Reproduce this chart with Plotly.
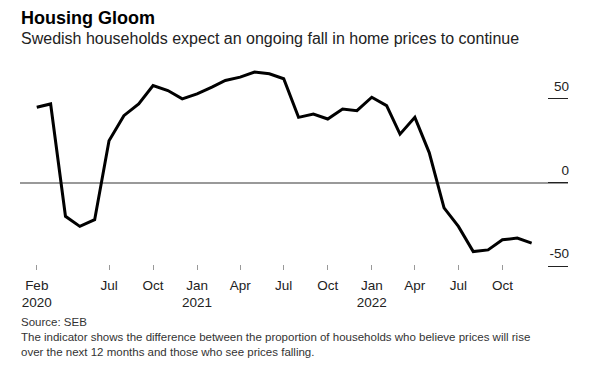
import plotly.graph_objects as go

# ---- data ----
months = [
    "2020-02-01", "2020-03-01", "2020-04-01", "2020-05-01", "2020-06-01", "2020-07-01",
    "2020-08-01", "2020-09-01", "2020-10-01", "2020-11-01", "2020-12-01",
    "2021-01-01", "2021-02-01", "2021-03-01", "2021-04-01", "2021-05-01", "2021-06-01",
    "2021-07-01", "2021-08-01", "2021-09-01", "2021-10-01", "2021-11-01", "2021-12-01",
    "2022-01-01", "2022-02-01", "2022-03-01", "2022-04-01", "2022-05-01", "2022-06-01",
    "2022-07-01", "2022-08-01", "2022-09-01", "2022-10-01", "2022-11-01", "2022-12-01",
]
indicator = [
    45, 47, -20, -26, -22, 25,
    40, 47, 58, 55, 50,
    53, 57, 61, 63, 66, 65,
    62, 39, 41, 38, 44, 43,
    51, 46, 29, 39, 18, -15,
    -26, -41, -40, -34, -33, -36,
]
x_tick_vals = [
    "2020-02-01", "2020-07-01", "2020-10-01", "2021-01-01", "2021-04-01", "2021-07-01",
    "2021-10-01", "2022-01-01", "2022-04-01", "2022-07-01", "2022-10-01",
]
x_tick_text = [
    "Feb<br>2020", "Jul<br>\u00a0", "Oct<br>\u00a0", "Jan<br>2021", "Apr<br>\u00a0", "Jul<br>\u00a0",
    "Oct<br>\u00a0", "Jan<br>2022", "Apr<br>\u00a0", "Jul<br>\u00a0", "Oct<br>\u00a0",
]
y_tick_vals = [-50, 0, 50]
y_tick_text = ["-50", "0", "50"]

title = "Housing Gloom"
subtitle = "Swedish households expect an ongoing fall in home prices to continue"
footer_lines = [
    "Source: SEB",
    "The indicator shows the difference between the proportion of households who believe prices will rise",
    "over the next 12 months and those who see prices falling.",
]

# ---- layout geometry (pixels) ----
W, H = 591, 372
L, R, T, B = 20, 568, 62.2, 269.8
FONT = "Liberation Sans, Arial, sans-serif"


def py(p):
    return (B - p) / (B - T)


fig = go.Figure()
fig.add_trace(go.Scatter(
    x=months, y=indicator, mode="lines",
    line=dict(color="#000000", width=3),
    hoverinfo="skip", showlegend=False,
))

fig.update_layout(
    width=W, height=H,
    margin=dict(l=L, r=W - R, t=T, b=H - B, pad=0),
    paper_bgcolor="white", plot_bgcolor="white",
    font=dict(family=FONT, color="#222222"),
    showlegend=False,
    xaxis=dict(
        type="date", range=["2019-12-28", "2023-02-15"],
        tickmode="array", tickvals=x_tick_vals, ticktext=x_tick_text,
        ticks="inside", ticklen=5, tickwidth=1, tickcolor="#999999",
        showgrid=False, showline=False, zeroline=False,
        tickfont=dict(size=13.5, color="#222222"),
        ticklabelstandoff=5,
    ),
    yaxis=dict(
        side="right", range=[-52, 72],
        tickmode="array", tickvals=y_tick_vals, ticktext=y_tick_text,
        ticks="inside", ticklen=20, tickwidth=1, tickcolor="#222222",
        ticklabelposition="inside top",
        ticklabelshift=-3, ticklabelstandoff=-4,
        showgrid=False, showline=False,
        zeroline=True, zerolinecolor="#999999", zerolinewidth=1.5,
        tickfont=dict(size=13.5, color="#222222"),
    ),
)

annos = [
    dict(text="<b>" + title + "</b>", y=py(18), size=18, color="#000000"),
    dict(text=subtitle, y=py(39), size=16, color="#222222"),
    dict(text="<br>".join(footer_lines), y=py(336.5), size=11.5, color="#333333"),
]
for a in annos:
    fig.add_annotation(
        text=a["text"], xref="paper", yref="paper", x=0, y=a["y"],
        xanchor="left", yanchor="middle", showarrow=False, align="left",
        font=dict(family=FONT, size=a["size"], color=a["color"]),
        borderpad=0,
    )

fig.write_html(
    "out.html",
    config={"displayModeBar": False},
    post_script="document.body.style.margin='0';document.body.style.overflow='hidden';",
)
